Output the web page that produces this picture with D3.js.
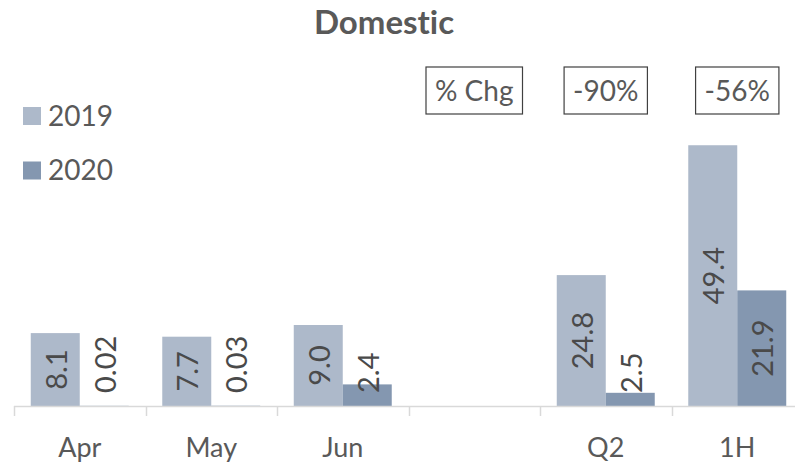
<!DOCTYPE html>
<html lang="en">
<head>
<meta charset="utf-8">
<title>Domestic</title>
<script src="https://d3js.org/d3.v7.min.js"></script>
<style>
  body { margin: 0; background: #fff; }
  svg text { font-family: Lato, "Open Sans", sans-serif; fill: #595959; font-variant-ligatures: none; }
</style>
</head>
<body>
<script>
// data
var categories = ["Apr", "May", "Jun", "", "Q2", "1H"];
var months = ["Apr", "May", "Jun"];          // plotted on the monthly scale
var series = ["2019", "2020"];
var values2019 = [8.1, 7.7, 9.0, null, 24.8, 49.4];
var values2020 = [0.02, 0.03, 2.4, null, 2.5, 21.9];
var chgCats = ["", "Q2", "1H"];
var chgLabels = ["% Chg", "-90%", "-56%"];

var width = 795, height = 468;
var baseY = 406, topY = 46;
var colors = { "2019": "#ADB9CA", "2020": "#8497B0" };

var svg = d3.select("body").append("svg")
    .attr("width", width)
    .attr("height", height);

var x = d3.scaleBand().domain(categories).range([14, 803]);
var x1 = d3.scaleBand().domain(series).range([0, x.bandwidth()]).paddingOuter(0.342);

// months and period totals sit on different value scales
var yMonth = d3.scaleLinear().domain([0, 40]).range([baseY, topY]);
var yPeriod = d3.scaleLinear().domain([0, 68.2]).range([baseY, topY]);
function yFor(cat) { return months.indexOf(cat) >= 0 ? yMonth : yPeriod; }

var rows = [];
categories.forEach(function(c, i) {
    if (values2019[i] == null) return;
    rows.push({ cat: c, s: "2019", v: values2019[i] });
    rows.push({ cat: c, s: "2020", v: values2020[i] });
});

svg.append("text")
    .attr("x", 384).attr("y", 34)
    .attr("text-anchor", "middle")
    .style("font-size", "33px")
    .style("font-weight", "bold")
    .text("Domestic");

svg.selectAll("rect.bar")
    .data(rows)
    .enter().append("rect")
    .attr("class", "bar")
    .attr("x", function(d) { return x(d.cat) + x1(d.s); })
    .attr("width", x1.bandwidth())
    .attr("y", function(d) { return yFor(d.cat)(d.v); })
    .attr("height", function(d) { return baseY - yFor(d.cat)(d.v); })
    .attr("fill", function(d) { return colors[d.s]; });

// axis line and category ticks
svg.append("line")
    .attr("x1", 14).attr("x2", width)
    .attr("y1", baseY + 0.5).attr("y2", baseY + 0.5)
    .attr("stroke", "#D9D9D9").attr("stroke-width", 1.5);

svg.selectAll("line.tick")
    .data(categories)
    .enter().append("line")
    .attr("class", "tick")
    .attr("x1", function(d) { return Math.round(x(d)) + 0.5; })
    .attr("x2", function(d) { return Math.round(x(d)) + 0.5; })
    .attr("y1", baseY).attr("y2", baseY + 10)
    .attr("stroke", "#D9D9D9").attr("stroke-width", 1.5);

svg.selectAll("text.cat")
    .data(categories)
    .enter().append("text")
    .attr("class", "cat")
    .attr("x", function(d) { return x(d) + x.bandwidth() / 2; })
    .attr("y", 457)
    .attr("text-anchor", "middle")
    .style("font-size", "27px")
    .text(function(d) { return d; });

// value labels, rotated
function fmt(v) { return v < 0.1 ? v.toFixed(2) : v.toFixed(1); }
function tall(d) { return baseY - yFor(d.cat)(d.v) > 60; }
svg.selectAll("text.val")
    .data(rows)
    .enter().append("text")
    .attr("class", "val")
    .attr("transform", function(d) {
        var y = yFor(d.cat);
        var cx = x(d.cat) + x1(d.s) + x1.bandwidth() / 2;
        var cy = tall(d) ? (y(d.v) + baseY) / 2 : baseY - 13;
        return "translate(" + cx + "," + cy + ") rotate(-90)";
    })
    .attr("text-anchor", function(d) { return tall(d) ? "middle" : "start"; })
    .attr("dominant-baseline", "central")
    .style("font-size", "29px")
    .style("fill", "#4a4a4a")
    .text(function(d) { return fmt(d.v); });

// % change boxes
var boxes = svg.selectAll("g.chg")
    .data(chgCats)
    .enter().append("g")
    .attr("class", "chg")
    .attr("transform", function(d) { return "translate(" + (x(d) + x.bandwidth() / 2) + ",0)"; });

boxes.append("text")
    .attr("x", 0).attr("y", 101)
    .attr("text-anchor", "middle")
    .style("font-size", "28px")
    .text(function(d, i) { return chgLabels[i]; })
    .each(function() {
        var b = this.getBBox();
        d3.select(this.parentNode).insert("rect", "text")
            .attr("x", -Math.max(b.width / 2 + 9, 41))
            .attr("width", Math.max(b.width + 18, 82))
            .attr("y", 67).attr("height", 47)
            .attr("fill", "none")
            .attr("stroke", "#404040").attr("stroke-width", 1.2);
    });

// legend
var legend = svg.selectAll("g.legend")
    .data(series)
    .enter().append("g")
    .attr("class", "legend")
    .attr("transform", function(d, i) { return "translate(23," + (107 + i * 54.5) + ")"; });

legend.append("rect")
    .attr("width", 18).attr("height", 18)
    .attr("fill", function(d) { return colors[d]; });

legend.append("text")
    .attr("x", 25).attr("y", 18.5)
    .style("font-size", "28px")
    .text(function(d) { return d; });
</script>
</body>
</html>
